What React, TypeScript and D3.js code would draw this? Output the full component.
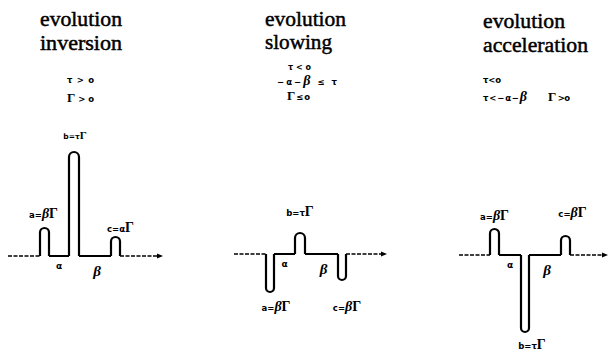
import React from "react";
import * as d3 from "d3";

// Three pulse sequences: a, b, c pulses separated by intervals α and β.
const titles = [
  ["evolution", "inversion"],
  ["evolution", "slowing"],
  ["evolution", "acceleration"],
];
// pulse onset times (a at 0, b after α, c after α+β)
const pulseTimes = [
  [0, 29, 71],
  [0, 29, 72],
  [0, 31, 71],
];
const pulseWidths = [
  [9, 10, 9],
  [8, 10, 8],
  [9, 8, 9],
];
// signed pulse amplitudes
const pulseAmps = [
  [28, 104, 19],
  [-38, 21, -26],
  [26, -77, 19],
];
const pulseNames = ["a", "b", "c"];
const pulseLabels = [
  ["a=βΓ", "b=τΓ", "c=αΓ"],
  ["a=βΓ", "b=τΓ", "c=βΓ"],
  ["a=βΓ", "b=τΓ", "c=βΓ"],
];

const W = 608;
const H = 358;

const SERIF = "Liberation Serif, DejaVu Serif, serif";
const SANS = "DejaVu Sans";

const panelX0 = [40, 266, 490];
const panelBase = [256, 254, 255];
const dashBefore = [32, 32, 31];
const dashAfter = [38, 36, 33];

type Seg = { t: string; big?: boolean; italic?: boolean };

function splitLabel(s: string): Seg[] {
  return Array.from(s).map((ch) => {
    if (ch === "Γ") return { t: ch, big: true };
    if (ch === "β") return { t: ch, big: true, italic: true };
    return { t: ch };
  });
}

function MathText({
  x,
  y,
  text,
  anchor = "start",
  small = 8.5,
  big = 13,
  len,
}: {
  x: number;
  y: number;
  text: string;
  anchor?: "start" | "middle" | "end";
  small?: number;
  big?: number;
  len?: number;
}) {
  const segs = splitLabel(text);
  return (
    <text
      x={x}
      y={y}
      textAnchor={anchor}
      fontWeight="bold"
      fill="#000"
      textLength={len}
      lengthAdjust={len ? "spacing" : undefined}
    >
      {segs.map((s, i) => (
        <tspan
          key={i}
          fontFamily={s.big ? SERIF : SANS}
          fontSize={s.big ? big : small}
          fontStyle={s.italic ? "italic" : "normal"}
        >
          {s.t}
        </tspan>
      ))}
    </text>
  );
}

function pulsePath(x0: number, x1: number, y0: number, yp: number) {
  const p = d3.path();
  const r = (x1 - x0) / 2;
  const up = yp < y0;
  p.moveTo(x0, y0);
  if (up) {
    p.lineTo(x0, yp + r);
    p.arc(x0 + r, yp + r, r, Math.PI, 2 * Math.PI, false);
  } else {
    p.lineTo(x0, yp - r);
    p.arc(x0 + r, yp - r, r, Math.PI, 0, true);
  }
  p.lineTo(x1, y0);
  return p.toString();
}

// fine placement of each pulse label around its peak
const labelFix: Record<string, { dx: number; dy: number }> = {
  "0-0": { dx: -1, dy: -2 },
  "0-1": { dx: 1, dy: -5 },
  "0-2": { dx: 5, dy: 3 },
  "1-0": { dx: 6, dy: 2 },
  "1-1": { dx: 0, dy: -9 },
  "1-2": { dx: 5, dy: 14 },
  "2-0": { dx: 0, dy: -1 },
  "2-1": { dx: 7, dy: 0 },
  "2-2": { dx: 7, dy: -11 },
};

function Panel({ i }: { i: number }) {
  const times = pulseTimes[i];
  const widths = pulseWidths[i];
  const amps = pulseAmps[i];
  const base = panelBase[i];
  const x = d3
    .scaleLinear()
    .domain([0, 1])
    .range([panelX0[i], panelX0[i] + 1]);
  const y = d3.scaleLinear().domain([0, 100]).range([base, base - 100]);

  const starts = times.map((t) => x(t));
  const ends = times.map((t, k) => x(t + widths[k]));
  const peaks = amps.map((a) => y(a));

  // solid signal: pulses joined by the baseline
  let d = "";
  times.forEach((_, k) => {
    d += pulsePath(starts[k], ends[k], base, peaks[k]);
    if (k < times.length - 1) {
      d += `M${ends[k]},${base}L${starts[k + 1]},${base}`;
    }
  });

  const xStart = starts[0] - dashBefore[i];
  const xEnd = ends[2] + dashAfter[i];

  const mid1 = (ends[0] + starts[1]) / 2;
  const mid2 = (ends[1] + starts[2]) / 2;

  const labels = pulseLabels[i];
  const centers = starts.map((s, k) => (s + ends[k]) / 2);

  return (
    <g>
      <path
        d={`M${xStart},${base}L${starts[0]},${base}`}
        stroke="#000"
        strokeWidth={1.5}
        strokeDasharray="4,1.5"
        fill="none"
      />
      <path d={d} stroke="#000" strokeWidth={2.2} fill="none" strokeLinejoin="round" />
      <path
        d={`M${ends[2]},${base}L${xEnd},${base}`}
        stroke="#000"
        strokeWidth={1.5}
        strokeDasharray="4,1.5"
        fill="none"
      />
      <path
        d={`M${xEnd + 5},${base}L${xEnd - 1},${base - 2.5}L${xEnd - 1},${base + 2.5}Z`}
        fill="#000"
      />
      {labels.map((lab, k) => {
        const up = amps[k] > 0;
        const f = labelFix[`${i}-${k}`];
        const isB = pulseNames[k] === "b";
        const ly = up ? peaks[k] - 8 : peaks[k] + 17;
        return (
          <MathText
            key={k}
            x={centers[k] + f.dx}
            y={ly + f.dy}
            text={lab}
            anchor="middle"
            small={isB && i === 0 ? 7.5 : 8.5}
            big={isB && i === 0 ? 11 : 14}
          />
        );
      })}
      <text
        x={mid1}
        y={base + 13}
        textAnchor="middle"
        fontFamily={SANS}
        fontWeight="bold"
        fontSize={9}
      >
        α
      </text>
      <text
        x={mid2 + 2}
        y={base + 20}
        textAnchor="middle"
        fontFamily={SERIF}
        fontWeight="bold"
        fontStyle="italic"
        fontSize={15}
      >
        β
      </text>
    </g>
  );
}

function Title({ i }: { i: number }) {
  const xs = [40, 265, 483];
  const lens = [
    [82, 82],
    [81, 67],
    [82, 105],
  ];
  const ys = [
    [26, 50],
    [26, 49],
    [28, 52],
  ];
  return (
    <g>
      {titles[i].map((t, k) => (
        <text
          key={k}
          x={xs[i]}
          y={ys[i][k]}
          fontFamily={SERIF}
          fontSize={20}
          fill="#000"
          stroke="#000"
          strokeWidth={0.45}
          textLength={lens[i][k]}
          lengthAdjust="spacingAndGlyphs"
        >
          {t}
        </text>
      ))}
    </g>
  );
}

export default function App() {
  return (
    <svg
      width={W}
      height={H}
      style={{ position: "absolute", left: 0, top: 0, background: "#fff" }}
    >
      <rect width={W} height={H} fill="#fff" />
      {[0, 1, 2].map((i) => (
        <Title key={i} i={i} />
      ))}

      {/* conditions on τ and Γ */}
      <MathText x={67} y={83} text="τ > o" small={8.5} len={27} />
      <MathText x={67} y={102} text="Γ > o" small={8.5} big={13} len={27} />

      <MathText x={288} y={70} text="τ<o" small={8} len={23} />
      <MathText x={277} y={85} text="−α−β ≤ τ" small={8.5} big={14} len={60} />
      <MathText x={287} y={100} text="Γ≤o" small={8.5} big={13} len={23} />

      <MathText x={483} y={83} text="τ<o" small={8.5} len={18} />
      <MathText x={483} y={101} text="τ<−α−β" small={8.5} big={14} len={44} />
      <MathText x={548} y={101} text="Γ >o" small={8.5} big={13} len={22} />

      {[0, 1, 2].map((i) => (
        <Panel key={i} i={i} />
      ))}
    </svg>
  );
}
